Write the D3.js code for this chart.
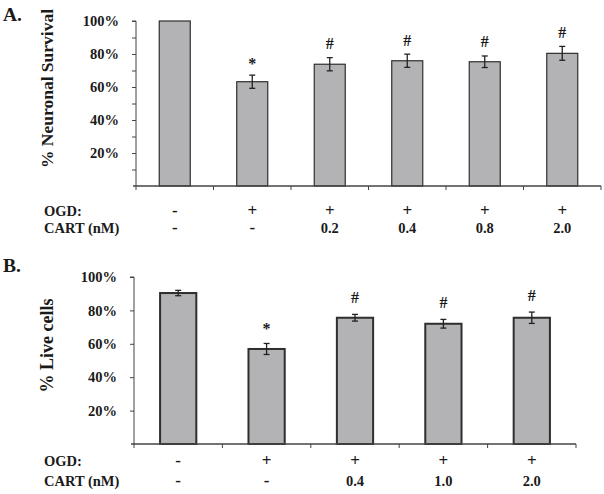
<!DOCTYPE html>
<html>
<head>
<meta charset="utf-8">
<script src="https://cdn.jsdelivr.net/npm/d3@7"></script>
<style>
  html, body { margin: 0; padding: 0; background: #fff; }
  svg { display: block; }
  text { font-family: "Liberation Serif", "Times New Roman", serif; font-weight: bold; fill: #1a1a1a; }
</style>
</head>
<body>
<div id="chart"></div>
<script>
// ---------- DATA ----------
// Panel A
const catsA = ["c1", "c2", "c3", "c4", "c5", "c6"];
const valuesA = [1.00, 0.632, 0.738, 0.759, 0.753, 0.804];
const errorsA = [0, 0.040, 0.040, 0.040, 0.035, 0.042];
const marksA = ["", "*", "#", "#", "#", "#"];
const ogdA = ["-", "+", "+", "+", "+", "+"];
const cartA = ["-", "-", "0.2", "0.4", "0.8", "2.0"];
const yTicksA = [0.1, 0.2, 0.3, 0.4, 0.5, 0.6, 0.7, 0.8, 0.9, 1.0];
const yLabelsA = [0.2, 0.4, 0.6, 0.8, 1.0];
const titleA = "% Neuronal Survival";

// Panel B
const catsB = ["c1", "c2", "c3", "c4", "c5"];
const valuesB = [0.904, 0.569, 0.756, 0.720, 0.756];
const errorsB = [0.016, 0.033, 0.020, 0.026, 0.034];
const marksB = ["", "*", "#", "#", "#"];
const ogdB = ["-", "+", "+", "+", "+"];
const cartB = ["-", "-", "0.4", "1.0", "2.0"];
const yTicksB = [0.2, 0.4, 0.6, 0.8, 1.0];
const yLabelsB = [0.2, 0.4, 0.6, 0.8, 1.0];
const titleB = "% Live cells";

const rowLabels = ["OGD:", "CART (nM)"];

// ---------- DRAW ----------
const W = 604, H = 494;
const svg = d3.select("#chart").append("svg").attr("width", W).attr("height", H);
const fmt = d3.format(".0%");

function panel(cfg) {
  const g = svg.append("g");
  const x = d3.scaleBand().domain(cfg.cats).range([cfg.x0, cfg.x1]).padding(0);
  const y = d3.scaleLinear().domain([0, 1]).range([cfg.yBottom, cfg.yTop]);
  const bw = x.bandwidth();
  const barW = bw * cfg.barFrac;

  // panel letter
  g.append("text").attr("x", 3).attr("y", cfg.letterY)
    .attr("font-size", 19.5).text(cfg.letter);

  // y axis title
  g.append("text")
    .attr("transform", `translate(${cfg.titleX},${(cfg.yTop + cfg.yBottom) / 2 - 15}) rotate(-90)`)
    .attr("text-anchor", "middle").attr("font-size", cfg.titleSize).text(cfg.title);

  // bars
  g.selectAll("rect.bar").data(cfg.values).join("rect")
    .attr("class", "bar")
    .attr("x", (d, i) => x(cfg.cats[i]) + (bw - barW) / 2)
    .attr("width", barW)
    .attr("y", d => y(d))
    .attr("height", d => y(0) - y(d))
    .attr("fill", "#b3b3b5")
    .attr("stroke", "#2e2e2e")
    .attr("stroke-width", cfg.barStroke);

  // y axis
  const yAxis = d3.axisLeft(y).tickValues(cfg.yTicks).tickSize(4)
    .tickFormat(d => cfg.yLabels.some(v => Math.abs(v - d) < 1e-9) ? fmt(d) : "");
  const ya = g.append("g").attr("transform", `translate(${cfg.x0},0)`).call(yAxis);
  ya.select(".domain").attr("stroke", "#444").attr("d", `M-4,${cfg.yTop}H0V${cfg.yBottom}`);
  ya.selectAll(".tick line").attr("stroke", "#444");
  ya.selectAll(".tick text").attr("x", -17).attr("font-size", 14.5)
    .attr("font-family", '"Liberation Serif", "Times New Roman", serif')
    .attr("font-weight", "bold").attr("fill", "#1a1a1a");

  // x axis (baseline with ticks at band boundaries)
  g.append("line").attr("x1", cfg.x0 - 3).attr("x2", cfg.x1)
    .attr("y1", y(0)).attr("y2", y(0)).attr("stroke", "#444").attr("stroke-width", 1.3);
  const edges = cfg.cats.map(c => x(c)).concat([x(cfg.cats[cfg.cats.length - 1]) + bw]);
  g.selectAll("line.xt").data(edges).join("line").attr("class", "xt")
    .attr("x1", d => d).attr("x2", d => d)
    .attr("y1", y(0)).attr("y2", y(0) + 4).attr("stroke", "#444");

  // error bars
  const items = cfg.values.map((v, i) => ({ v, e: cfg.errors[i], c: cfg.cats[i], m: cfg.marks[i] }));
  const eb = g.selectAll("g.eb").data(items.filter(d => d.e > 0)).join("g").attr("class", "eb")
    .attr("transform", d => `translate(${x(d.c) + bw / 2},0)`);
  eb.append("line")
    .attr("y1", d => y(d.v + d.e)).attr("y2", d => y(d.v - d.e))
    .attr("stroke", "#222").attr("stroke-width", 1.3);
  eb.append("line").attr("x1", -3).attr("x2", 3)
    .attr("y1", d => y(d.v + d.e)).attr("y2", d => y(d.v + d.e))
    .attr("stroke", "#222").attr("stroke-width", 1.3);
  eb.append("line").attr("x1", -3).attr("x2", 3)
    .attr("y1", d => y(d.v - d.e)).attr("y2", d => y(d.v - d.e))
    .attr("stroke", "#222").attr("stroke-width", 1.3);

  // significance marks
  g.selectAll("text.mark").data(items).join("text").attr("class", "mark")
    .attr("x", d => x(d.c) + bw / 2)
    .attr("y", d => y(d.v + d.e) - cfg.markGap + (d.m === "*" ? 8 : 5.5))
    .attr("text-anchor", "middle").attr("font-size", 16).attr("font-weight", "normal")
    .text(d => d.m);

  // row labels
  rowLabels.forEach((lab, r) => {
    g.append("text").attr("x", 44).attr("y", cfg.rowY[r]).attr("font-size", 14.5).text(lab);
  });
  [cfg.ogd, cfg.cart].forEach((row, r) => {
    g.selectAll(`text.row${r}`).data(row).join("text").attr("class", `row${r}`)
      .attr("x", (d, i) => x(cfg.cats[i]) + bw / 2)
      .attr("y", cfg.rowY[r])
      .attr("text-anchor", "middle")
      .attr("font-size", d => (d === "+" || d === "-") ? 17 : 14.5)
      .text(d => d);
  });
}

panel({
  letter: "A.", letterY: 21, title: titleA, titleX: 53, titleSize: 17.5,
  cats: catsA, values: valuesA, errors: errorsA, marks: marksA, ogd: ogdA, cart: cartA,
  yTicks: yTicksA, yLabels: yLabelsA,
  x0: 136, x1: 601, yTop: 21, yBottom: 186, barFrac: 0.4, barStroke: 1.2,
  markGap: 14, rowY: [215.5, 233]
});

panel({
  letter: "B.", letterY: 272, title: titleB, titleX: 53, titleSize: 18,
  cats: catsB, values: valuesB, errors: errorsB, marks: marksB, ogd: ogdB, cart: cartB,
  yTicks: yTicksB, yLabels: yLabelsB,
  x0: 134, x1: 576, yTop: 277, yBottom: 444, barFrac: 0.41, barStroke: 2,
  markGap: 17, rowY: [466, 486]
});
</script>
</body>
</html>
